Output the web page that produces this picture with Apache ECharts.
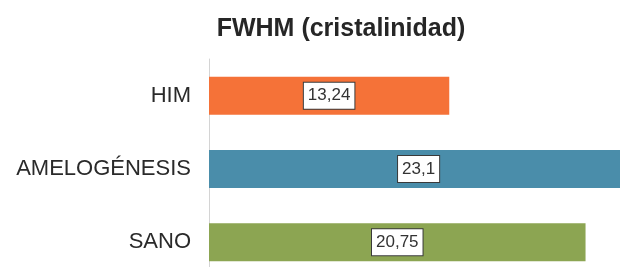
<!DOCTYPE html>
<html><head><meta charset="utf-8">
<script src="https://cdn.jsdelivr.net/npm/echarts@6/dist/echarts.min.js"></script>
<style>html,body{margin:0;padding:0;background:#fff;overflow:hidden}#c{width:630px;height:279px}</style>
</head><body><div id="c"></div>
<script>
const categories = ['SANO', 'AMELOGÉNESIS', 'HIM'];
const values = [20.75, 23.1, 13.24];
const colors = ['#8CA552', '#4A8DAA', '#F57238'];
const titleText = 'FWHM (cristalinidad)';

const chart = echarts.init(document.getElementById('c'), null, {renderer: 'canvas'});
chart.setOption({
  animation: false,
  backgroundColor: '#fff',
  title: {
    text: titleText, left: 336, top: 12, textAlign: 'center',
    textStyle: {fontFamily: 'Liberation Sans, Arial, sans-serif', fontSize: 25, fontWeight: 'bold', color: '#262626'}
  },
  grid: {left: 209, right: 0, top: 59, bottom: 0},
  xAxis: {type: 'value', min: 0, max: 23.2, show: false},
  yAxis: {
    type: 'category', data: categories,
    axisLine: {show: true, lineStyle: {color: '#d4d4d4', width: 1}},
    axisTick: {show: false},
    axisLabel: {margin: 18, fontFamily: 'Liberation Sans, Arial, sans-serif', fontSize: 22, color: '#2a2a2a'}
  },
  series: [{
    type: 'bar', barWidth: 38, clip: false,
    data: values.map((v, i) => ({value: v, itemStyle: {color: colors[i]}})),
    label: {
      show: true, position: 'inside',
      formatter: p => String(p.value).replace('.', ','),
      fontFamily: 'Liberation Sans, Arial, sans-serif', fontSize: 17, color: '#333',
      backgroundColor: '#fff', borderColor: '#3a3a3a', borderWidth: 1,
      padding: [5, 4, 4, 4]
    }
  }]
});
</script></body></html>
